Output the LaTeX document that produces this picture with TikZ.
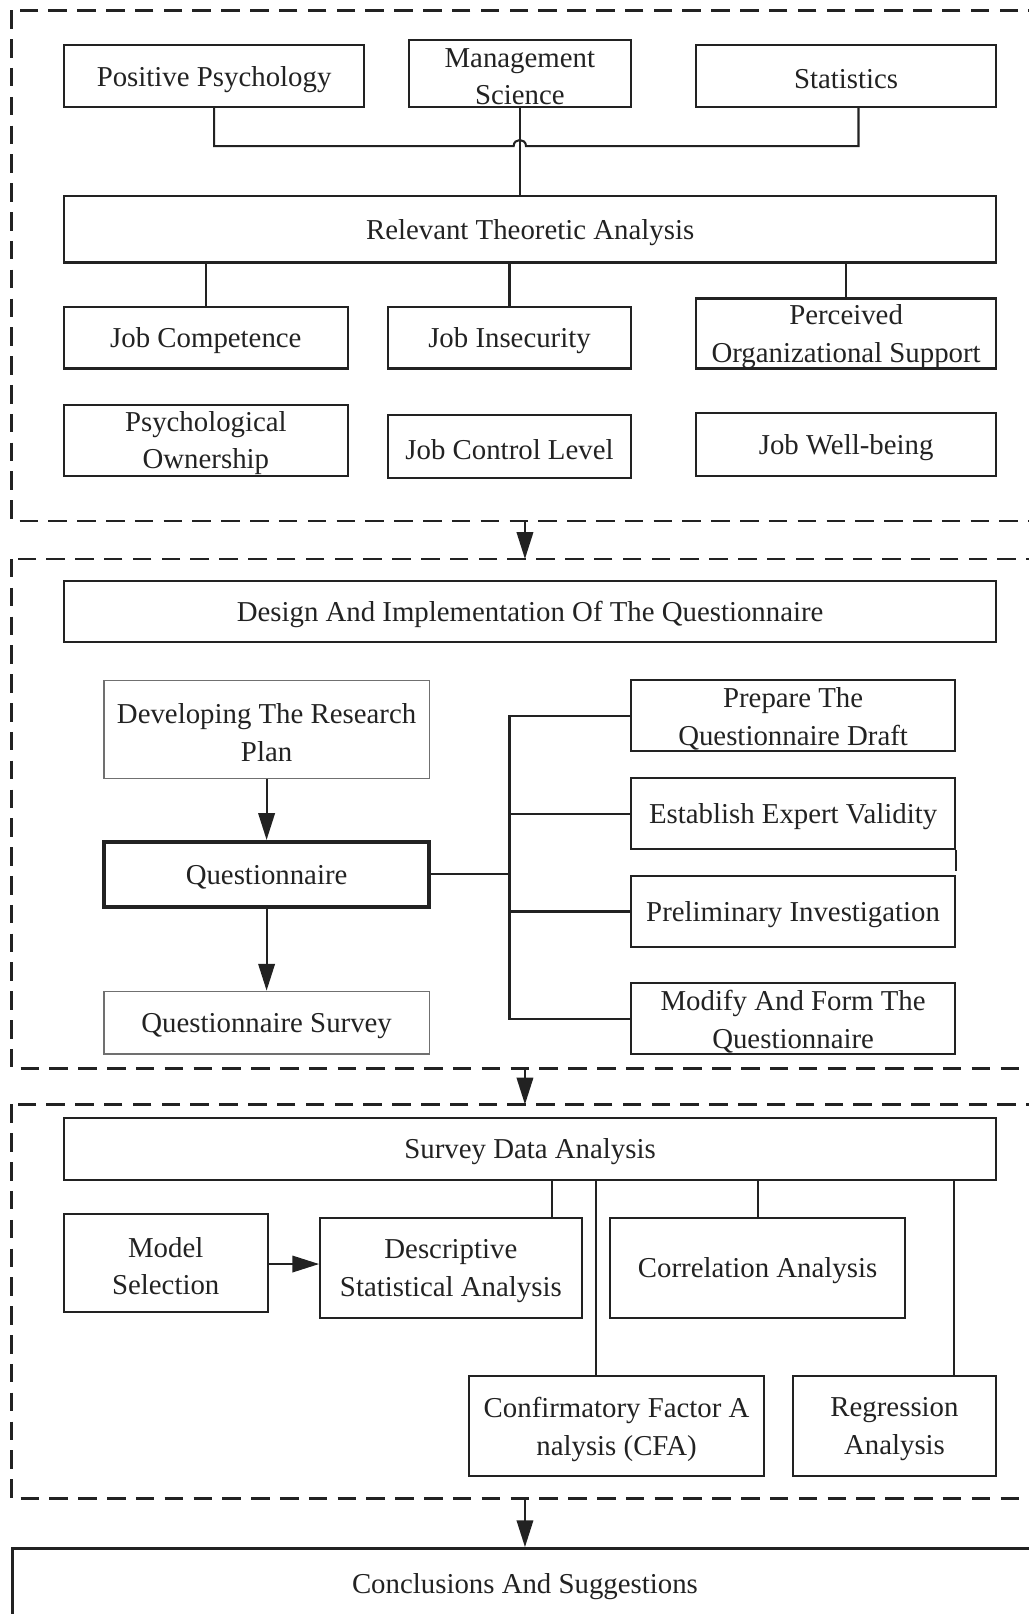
\documentclass[tikz,border=0pt]{standalone}
\usepackage{fontspec}
\setmainfont{Liberation Serif}
\usetikzlibrary{arrows.meta,calc}
\definecolor{ink}{HTML}{222222}
\definecolor{soft}{HTML}{707070}
\newcommand{\mkbox}[7][]{%
  \node[box,#1,minimum width={(#5-#3)*0.5pt},minimum height={(#6-#4)*0.5pt}] (#2) at ({(#3+#5)/2},{(#4+#6)/2}) {};
  \node[lbl] (#2t) at ({(#3+#5)/2},{(#4+#6)/2+3}) {#7};}
\begin{document}
\begin{tikzpicture}[x=0.5pt,y=-0.5pt,
  box/.style={draw=ink, line width=1pt, inner sep=0pt},
  lbl/.style={inner sep=0pt, align=center, text=ink, font=\fontsize{14pt}{18.3pt}\selectfont},
  thinbox/.style={draw=soft, line width=0.6pt},
  thickbox/.style={line width=2pt},
  frame/.style={draw=ink, line width=1.2pt, dash pattern=on 9pt off 5pt},
  link/.style={draw=ink, line width=1pt},
  arr/.style={link, -{Triangle[length=13pt,width=8pt]}}]
\useasboundingbox (0,0) rectangle (999,1568);

% section frames
\draw[frame] (11,10) rectangle (1012,506);
\draw[frame] (11,543) rectangle (1012,1038);
\draw[frame] (11,1073) rectangle (1012,1456);

% section 1
\mkbox{pp}{62}{44}{354}{104}{Positive Psychology}
\mkbox{ms}{397}{39}{613}{104}{Management\\Science}
\mkbox{st}{676}{44}{968}{104}{Statistics}
\mkbox{rta}{62}{190}{968}{255}{Relevant Theoretic Analysis}
\mkbox{jc}{62}{298}{338}{358}{Job Competence}
\mkbox{ji}{377}{298}{613}{358}{Job Insecurity}
\mkbox{pos}{676}{290}{968}{358}{Perceived\\Organizational Support}
\mkbox{po}{62}{393}{338}{462}{Psychological\\Ownership}
\mkbox{jcl}{377}{403}{613}{464}{Job Control Level}
\mkbox{jwb}{676}{401}{968}{462}{Job Well-being}

\coordinate (h1) at (499,142);
\coordinate (h2) at (511,142);
\coordinate (sj) at ($(st.south)+(12,0)$);
\draw[link] (pp.south) |- (h1) .. controls (499,134) and (511,134) .. (h2) -| (sj);
\draw[link] (ms.south) -- (ms.south |- rta.north);
\draw[link] (jc.north) -- (jc.north |- rta.south);
\draw[link] (ji.north) -- (ji.north |- rta.south);
\draw[link] (pos.north) -- (pos.north |- rta.south);

% between sections
\coordinate (s1b) at (510,506);
\coordinate (s2t) at (510,543);
\draw[arr] (s1b) -- (s2t);

% section 2
\mkbox{dim}{62}{564}{968}{624}{Design And Implementation Of The Questionnaire}
\mkbox[thinbox]{drp}{101}{661}{417}{756}{Developing The Research\\Plan}
\mkbox[thickbox]{q}{101}{818}{417}{881}{Questionnaire}
\mkbox[thinbox]{qs}{101}{963}{417}{1024}{Questionnaire Survey}
\mkbox{p1}{613}{661}{928}{730}{Prepare The\\Questionnaire Draft}
\mkbox{p2}{613}{756}{928}{825}{Establish Expert Validity}
\mkbox{p3}{613}{851}{928}{920}{Preliminary Investigation}
\mkbox{p4}{613}{955}{928}{1024}{Modify And Form The\\Questionnaire}
\draw[link] (p2.south east) -- ++(0,20);

\draw[arr] (drp.south) -- (q.north);
\draw[arr] (q.south) -- (qs.north);
\coordinate (tr) at (495,849.5);
\draw[link] (q.east) -- (tr);
\draw[link] (p1.west) -| (tr);
\draw[link] (p4.west) -| (tr);
\draw[link] (p2.west) -- (p2.west -| tr);
\draw[link] (p3.west) -- (p3.west -| tr);

\coordinate (s2b) at (510,1038);
\coordinate (s3t) at (510,1073);
\draw[arr] (s2b) -- (s3t);

% section 3
\mkbox{sda}{62}{1086}{968}{1146}{Survey Data Analysis}
\mkbox{msel}{62}{1179}{260}{1275}{Model\\Selection}
\mkbox{dsa}{311}{1183}{565}{1280}{Descriptive\\Statistical Analysis}
\mkbox{ca}{593}{1183}{879}{1280}{Correlation Analysis}
\mkbox{cfa}{456}{1337}{742}{1434}{Confirmatory Factor A\\nalysis (CFA)}
\mkbox{ra}{770}{1337}{968}{1434}{Regression\\Analysis}

\draw[arr] (msel.east |- 0,1228) -- (dsa.west |- 0,1228);
\coordinate (c1) at ($(dsa.north east)+(-30,0)$);
\draw[link] (c1) -- (c1 |- sda.south);
\coordinate (c2) at ($(cfa.north)+(-20,0)$);
\draw[link] (c2) -- (c2 |- sda.south);
\draw[link] (ca.north) -- (ca.north |- sda.south);
\coordinate (c4) at ($(ra.north east)+(-42,0)$);
\draw[link] (c4) -- (c4 |- sda.south);

\coordinate (s3b) at (510,1456);
\draw[arr] (s3b) -- ($(s3b)+(0,47)$) coordinate (s4t);

% conclusions
\node[box,line width=1.3pt,minimum width={999*0.5pt},minimum height={80*0.5pt},anchor=north west] (conc) at (11,1503) {};
\node[lbl] (conct) at (510,1541) {Conclusions And Suggestions};
\end{tikzpicture}
\end{document}
